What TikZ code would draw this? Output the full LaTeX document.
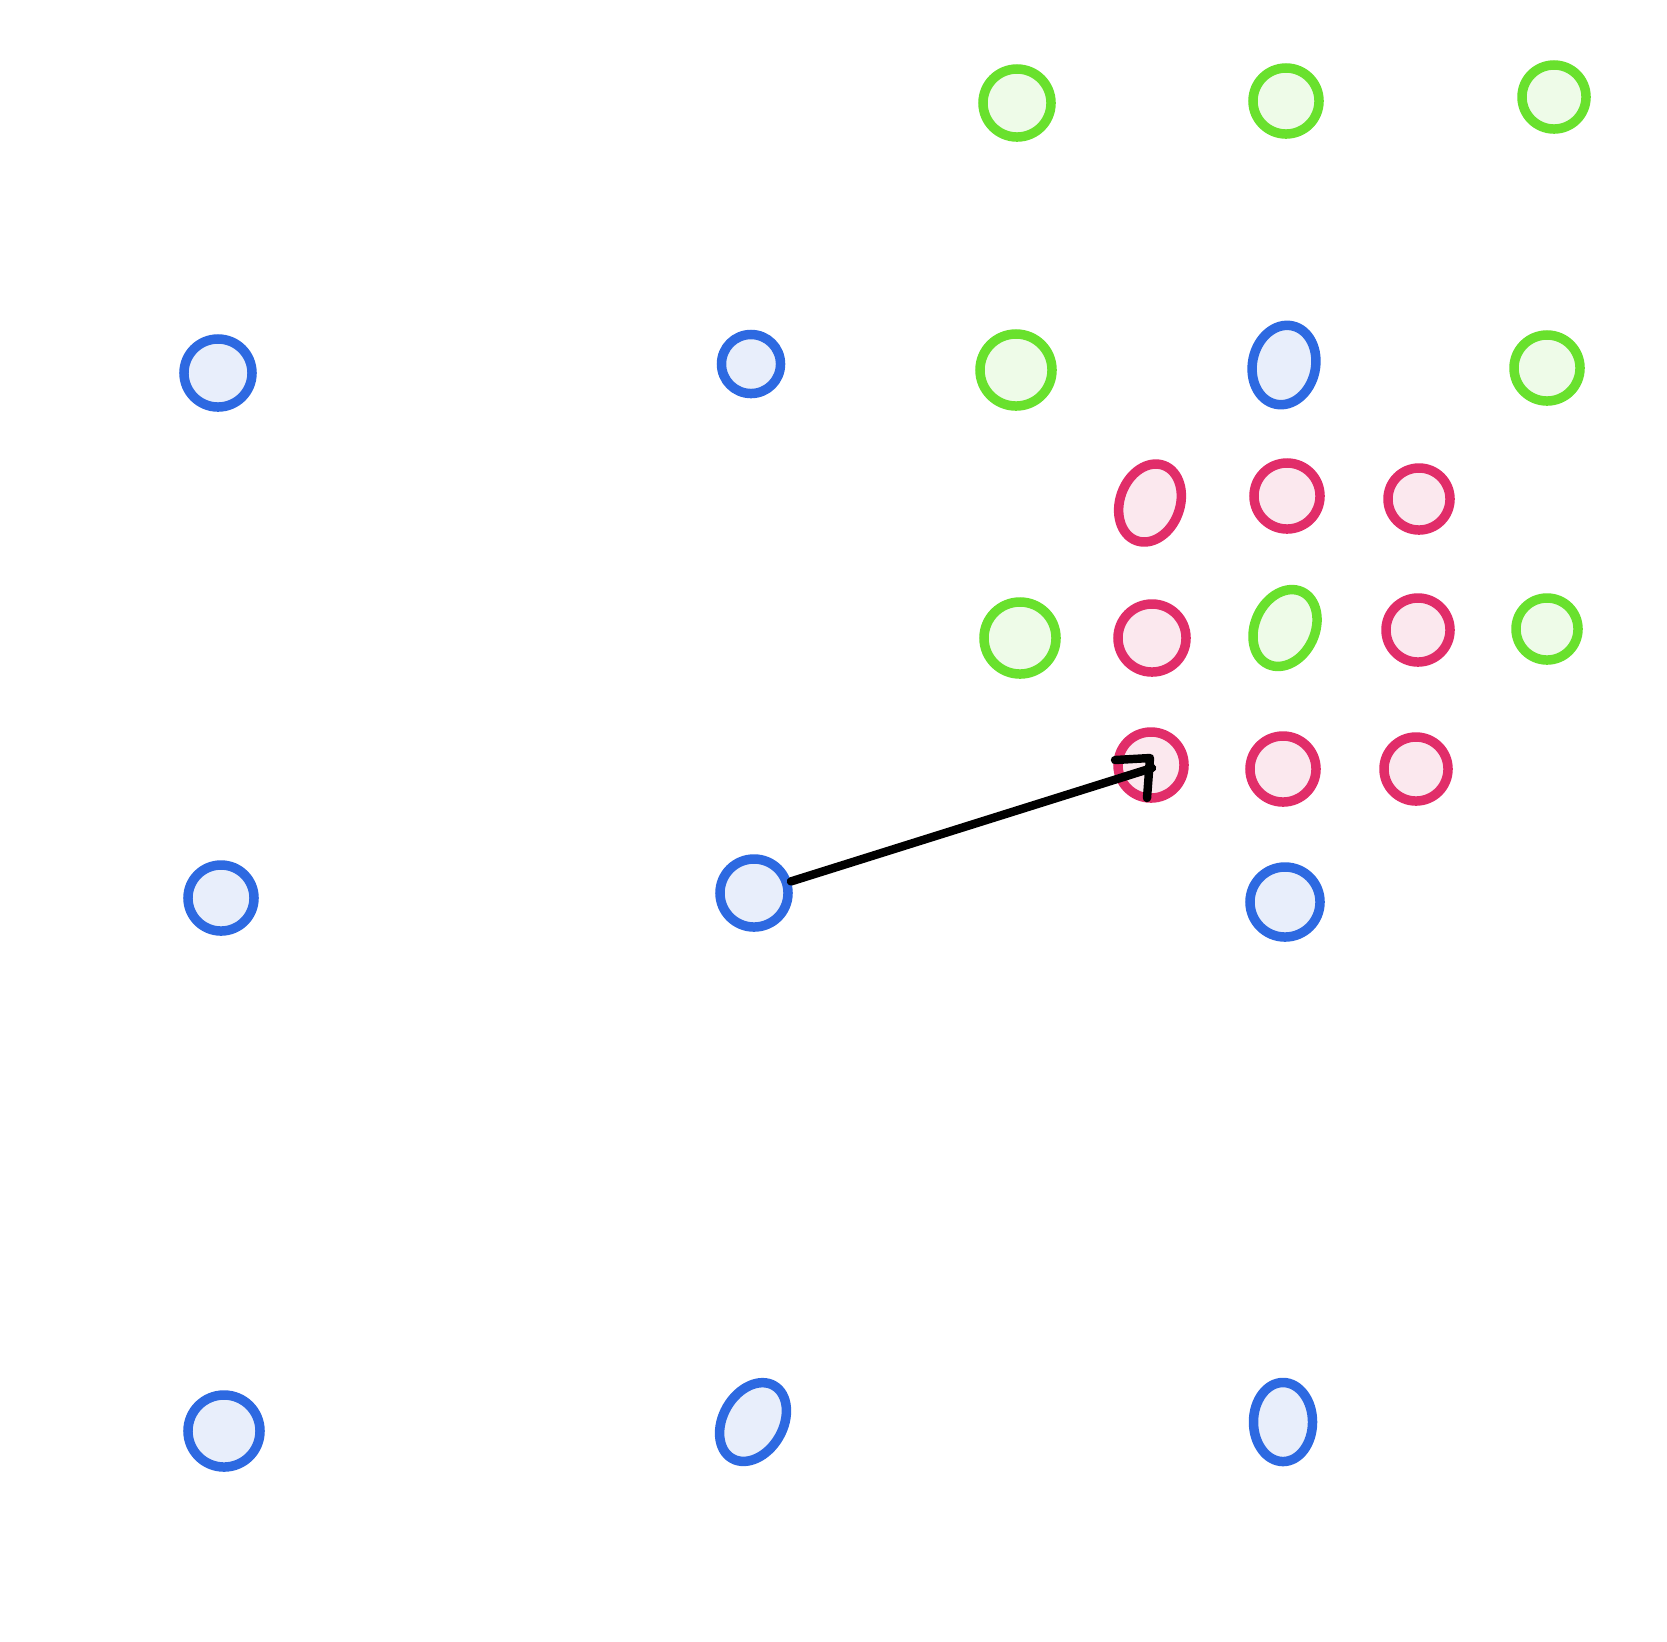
\documentclass[tikz,border=0pt]{standalone}
\usepackage{tikz}
\usetikzlibrary{shapes.geometric}

\definecolor{bluestroke}{RGB}{45,105,225}
\definecolor{bluefill}{RGB}{232,238,251}
\definecolor{greenstroke}{RGB}{105,225,45}
\definecolor{greenfill}{RGB}{238,251,232}
\definecolor{redstroke}{RGB}{225,45,105}
\definecolor{redfill}{RGB}{251,232,238}

\begin{document}
\begin{tikzpicture}[x=0.01cm, y=-0.01cm, line width=2.7pt,
  bluering/.style={draw=bluestroke, fill=bluefill, inner sep=0pt},
  greenring/.style={draw=greenstroke, fill=greenfill, inner sep=0pt},
  redring/.style={draw=redstroke, fill=redfill, inner sep=0pt},
  dot/.style={circle, minimum size=#1},
  oval/.style 2 args={ellipse, minimum width=#1, minimum height=#2},
  link/.style={line width=2.4pt, line cap=round, line join=round}]
\path[use as bounding box] (0,0) rectangle (1667,1641);
% blue
\node[bluering, dot=6.8mm] (b1) at (218,373) {};
\node[bluering, dot=5.9mm] (b2) at (751,364) {};
\node[bluering, dot=6.6mm] (b3) at (221,898) {};
\node[bluering, dot=6.8mm] (b4) at (754,893) {};
\node[bluering, dot=7.0mm] (b5) at (1285,902) {};
\node[bluering, dot=7.2mm] (b6) at (224,1431) {};
\node[bluering, oval={6.0mm}{8.4mm}, rotate=-30] (b7) at (753,1422) {};
\node[bluering, oval={5.9mm}{7.9mm}] (b8) at (1283,1422) {};
\node[bluering, oval={6.3mm}{8.0mm}, rotate=-12] (b9) at (1284,365) {};
% green
\node[greenring, dot=6.8mm] (g1) at (1017,103) {};
\node[greenring, dot=6.6mm] (g2) at (1286,101) {};
\node[greenring, dot=6.4mm] (g3) at (1554,97) {};
\node[greenring, dot=7.2mm] (g4) at (1016,370) {};
\node[greenring, dot=6.6mm] (g5) at (1547,368) {};
\node[greenring, dot=7.2mm] (g6) at (1020,638) {};
\node[greenring, oval={6.0mm}{8.0mm}, rotate=-25] (g7) at (1285,628) {};
\node[greenring, dot=6.2mm] (g8) at (1547,629) {};
% red
\node[redring, oval={6.0mm}{8.0mm}, rotate=-20] (r1) at (1150,503) {};
\node[redring, dot=6.6mm] (r2) at (1287,496) {};
\node[redring, dot=6.2mm] (r3) at (1419,499) {};
\node[redring, dot=6.8mm] (r4) at (1152,638) {};
\node[redring, dot=6.4mm] (r5) at (1418,630) {};
\node[redring, dot=6.6mm] (r6) at (1151,765) {};
\node[redring, dot=6.6mm] (r7) at (1283,769) {};
\node[redring, dot=6.4mm] (r8) at (1416,769) {};
% arrow
\coordinate (tip) at (1152,768);
\coordinate (corner) at (1150,758);
\coordinate (armL) at (1115,760);
\coordinate (armD) at (1147,798);
\draw[link] (b4) -- (tip);
\draw[link] (armL) -- (corner) -- (armD);
\end{tikzpicture}
\end{document}
